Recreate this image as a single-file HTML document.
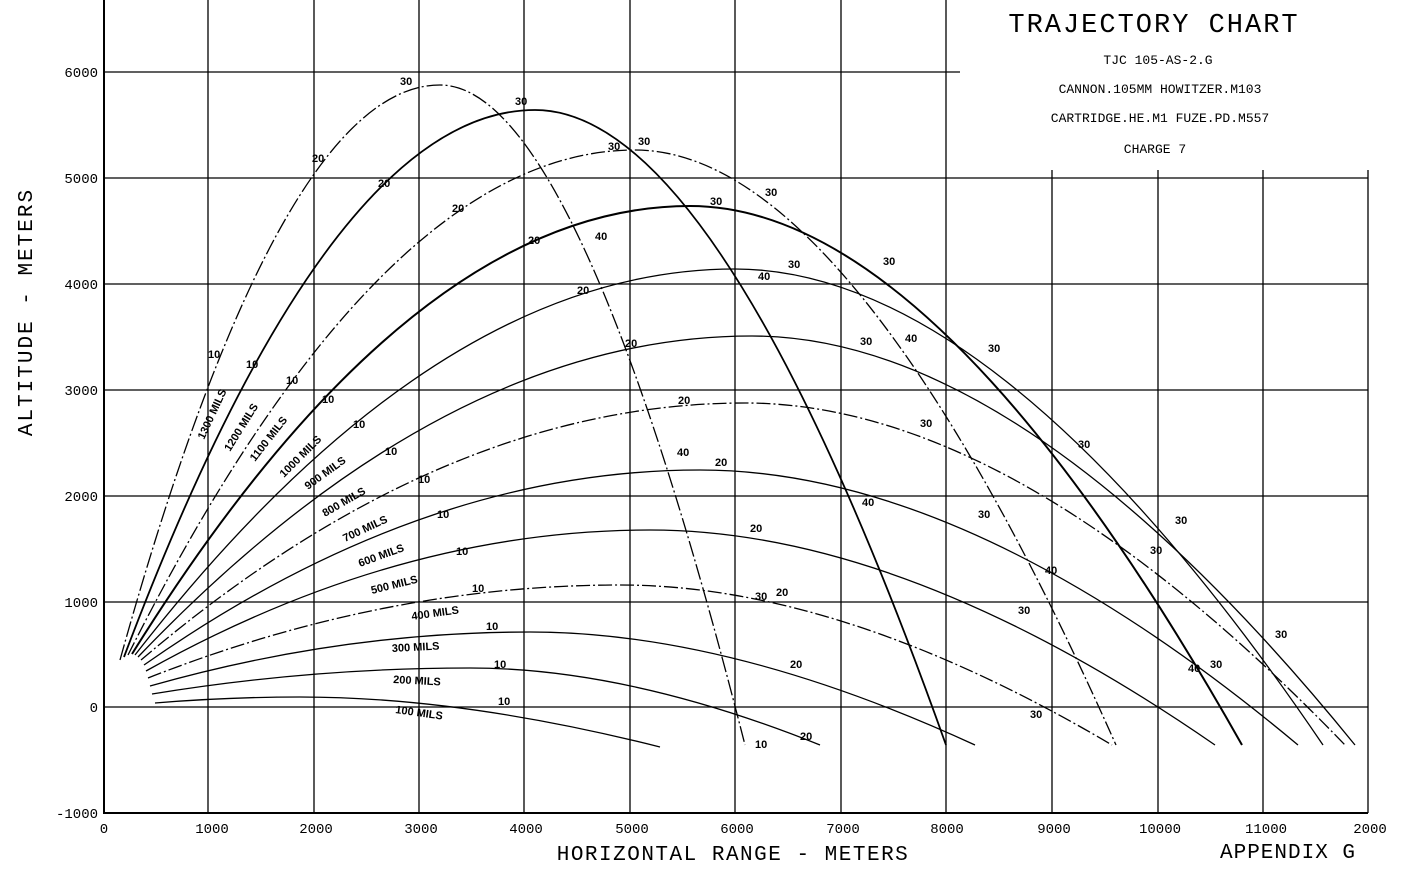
<!DOCTYPE html>
<html><head><meta charset="utf-8"><style>
html,body{margin:0;padding:0;background:#fff;}
svg{display:block;font-family:"Liberation Mono","DejaVu Sans Mono",monospace;}
</style></head><body>
<svg width="1406" height="872" viewBox="0 0 1406 872" xmlns="http://www.w3.org/2000/svg">
<rect width="1406" height="872" fill="#fff"/>
<g stroke="#000" stroke-width="1.3" fill="none">
<!-- verticals -->
<path d="M104 0V813M208 0V813M314 0V813M419 0V813M524 0V813M630 0V813M735 0V813M841 0V813M946 0V813M1052 170V813M1158 170V813M1263 170V813M1368 170V813"/>
<!-- horizontals -->
<path d="M104 72H960M104 178H1368M104 284H1368M104 390H1368M104 496H1368M104 602H1368M104 707H1368M104 813H1368"/>
</g>
<g stroke="#000" stroke-width="2" fill="none">
<path d="M104 0V813H1368"/>
</g>
<!-- trajectories -->
<g stroke="#000" stroke-width="1.3" fill="none">
<path d="M155 703Q228 697 300 697Q462 697 660 747"/>
<path d="M152 694Q311 668 470 668Q628 668 820 745"/>
<path d="M150 686Q340 632 530 632Q730 632 975 745"/>
<path d="M148 678Q384 585 620 585Q841 585 1112 745" stroke-dasharray="14 3 2 3"/>
<path d="M146 671Q398 530 650 530Q904 530 1215 745"/>
<path d="M144 665Q422 470 700 470Q969 470 1298 745"/>
<path d="M141 660Q443 403 745 403Q1015 403 1345 745" stroke-dasharray="14 3 2 3"/>
<path d="M138 657Q445 336 752 336Q1023 336 1355 745"/>
<path d="M135 655Q435 269 735 269Q1000 269 1323 745"/>
<path d="M132 654Q411 206 690 206Q938 206 1242 745" stroke-width="2"/>
<path d="M128 655Q382 150 635 150Q851 150 1116 745" stroke-dasharray="14 3 2 3"/>
<path d="M124 657Q330 110 535 110Q720 110 946 745" stroke-width="1.8"/>
<path d="M120 660Q280 85 440 85Q577 85 745 745" stroke-dasharray="16 3 2 3"/>
</g>
<!-- mils labels -->
<g font-family="Liberation Sans, sans-serif" font-size="11" font-weight="bold" fill="#000">
<text transform="translate(395,713) rotate(8)">100 MILS</text>
<text transform="translate(393,683) rotate(3)">200 MILS</text>
<text transform="translate(392,652) rotate(-3)">300 MILS</text>
<text transform="translate(412,620) rotate(-8)">400 MILS</text>
<text transform="translate(372,594) rotate(-14)">500 MILS</text>
<text transform="translate(360,567) rotate(-20)">600 MILS</text>
<text transform="translate(345,542) rotate(-25)">700 MILS</text>
<text transform="translate(325,517) rotate(-30)">800 MILS</text>
<text transform="translate(308,490) rotate(-36)">900 MILS</text>
<text transform="translate(284,478) rotate(-45)">1000 MILS</text>
<text transform="translate(255,462) rotate(-52)">1100 MILS</text>
<text transform="translate(230,452) rotate(-58)">1200 MILS</text>
<text transform="translate(204,440) rotate(-65)">1300 MILS</text>
</g>
<!-- small time markers -->
<g font-family="Liberation Sans, sans-serif" font-size="11" font-weight="bold" fill="#000">
<text x="498" y="705">10</text><text x="494" y="668">10</text><text x="486" y="630">10</text>
<text x="472" y="592">10</text><text x="456" y="555">10</text><text x="437" y="518">10</text>
<text x="418" y="483">10</text><text x="385" y="455">10</text><text x="353" y="428">10</text>
<text x="322" y="403">10</text><text x="286" y="384">10</text><text x="246" y="368">10</text><text x="208" y="358">10</text>
<text x="800" y="740">20</text><text x="790" y="668">20</text><text x="776" y="596">20</text>
<text x="750" y="532">20</text><text x="715" y="466">20</text><text x="678" y="404">20</text>
<text x="625" y="347">20</text><text x="577" y="294">20</text><text x="528" y="244">20</text>
<text x="452" y="212">20</text><text x="378" y="187">20</text><text x="312" y="162">20</text>
<text x="400" y="85">30</text><text x="515" y="105">30</text><text x="608" y="150">30</text>
<text x="710" y="205">30</text><text x="788" y="268">30</text><text x="860" y="345">30</text>
<text x="920" y="427">30</text><text x="978" y="518">30</text><text x="1018" y="614">30</text>
<text x="1030" y="718">30</text><text x="1078" y="448">30</text><text x="1150" y="554">30</text>
<text x="765" y="196">30</text><text x="883" y="265">30</text><text x="988" y="352">30</text>
<text x="1210" y="668">30</text><text x="1175" y="524">30</text><text x="1275" y="638">30</text>
<text x="755" y="600">30</text><text x="638" y="145">30</text>
<text x="595" y="240">40</text><text x="905" y="342">40</text><text x="1045" y="574">40</text>
<text x="1188" y="672">40</text><text x="862" y="506">40</text><text x="677" y="456">40</text>
<text x="758" y="280">40</text><text x="755" y="748">10</text>
</g>
<!-- tick labels -->
<g font-size="14" fill="#000" text-anchor="end">
<text x="98" y="77">6000</text><text x="98" y="183">5000</text><text x="98" y="289">4000</text>
<text x="98" y="395">3000</text><text x="98" y="501">2000</text><text x="98" y="607">1000</text>
<text x="98" y="712">0</text><text x="98" y="818">-1000</text>
</g>
<g font-size="14" fill="#000" text-anchor="middle">
<text x="104" y="833">0</text><text x="212" y="833">1000</text><text x="316" y="833">2000</text>
<text x="421" y="833">3000</text><text x="526" y="833">4000</text><text x="632" y="833">5000</text>
<text x="737" y="833">6000</text><text x="843" y="833">7000</text><text x="947" y="833">8000</text>
<text x="1054" y="833">9000</text><text x="1160" y="833">10000</text><text x="1266" y="833">11000</text>
<text x="1370" y="833">2000</text>
</g>
<text x="733" y="860" font-size="21" text-anchor="middle" letter-spacing="1.5">HORIZONTAL  RANGE  -  METERS</text>
<text x="1288" y="858" font-size="21" text-anchor="middle" letter-spacing="1">APPENDIX G</text>
<text transform="translate(32,312) rotate(-90)" font-size="21" text-anchor="middle" letter-spacing="2">ALTITUDE - METERS</text>
<!-- title -->
<rect x="962" y="0" width="400" height="168" fill="#fff"/>
<g fill="#000" text-anchor="middle">
<text x="1154" y="32" font-size="27" letter-spacing="2">TRAJECTORY CHART</text>
<text x="1158" y="64" font-size="13">TJC 105-AS-2.G</text>
<text x="1160" y="93" font-size="13">CANNON.105MM HOWITZER.M103</text>
<text x="1160" y="122" font-size="13">CARTRIDGE.HE.M1  FUZE.PD.M557</text>
<text x="1155" y="153" font-size="13">CHARGE 7</text>
</g>
</svg>
</body></html>
